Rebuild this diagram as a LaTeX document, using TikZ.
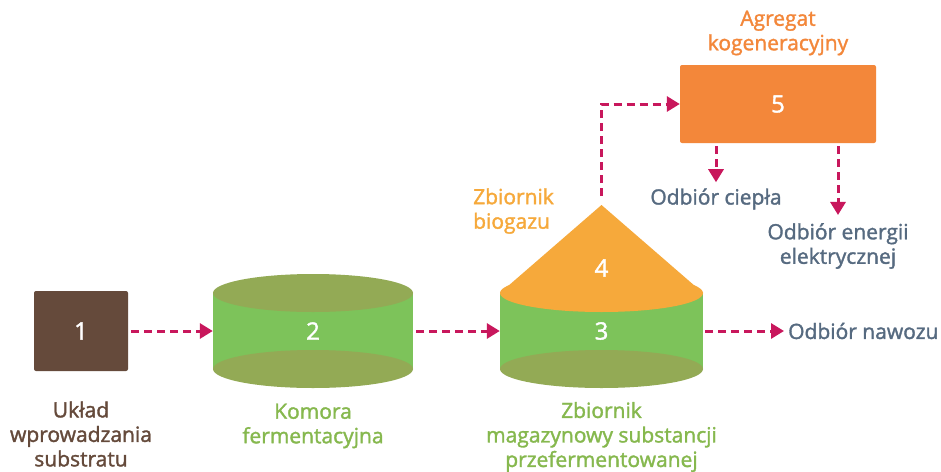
\documentclass[tikz,border=0pt]{standalone}
\usepackage{fontspec}
\setmainfont{Open Sans}[FakeBold=1.6]
\usetikzlibrary{arrows.meta}
\definecolor{brownc}{HTML}{654A3B}
\definecolor{greenbody}{HTML}{7DC35A}
\definecolor{greenell}{HTML}{93AA55}
\definecolor{greentxt}{HTML}{86B84E}
\definecolor{orangecone}{HTML}{F6A93B}
\definecolor{orangebox}{HTML}{F3873A}
\definecolor{arrowc}{HTML}{C8175C}
\definecolor{greyblue}{HTML}{566A80}
\tikzset{
  flow/.style={draw=arrowc, line width=3pt, dash pattern=on 8pt off 5pt,
    -{Triangle[length=13pt,width=15pt]}},
  num/.style={text=white, font=\fontsize{24}{28}\selectfont},
  lbl/.style={font=\fontsize{21}{24.5}\selectfont, align=center, inner sep=0pt},
  box/.style={rounded corners=2pt, inner sep=0pt}
}
\begin{document}
\begin{tikzpicture}[x=1pt,y=-1pt]
\useasboundingbox[fill=white] (0,0) rectangle (941,471);
% cylinder 2
\fill[greenbody] (213,293) rectangle (413,369);
\fill[greenell] (313,369) ellipse[x radius=100, y radius=19];
\fill[greenell] (313,293) ellipse[x radius=100, y radius=19];
% cylinder 3 with cone
\fill[greenbody] (500,293) rectangle (703,369);
\fill[greenell] (601.5,369) ellipse[x radius=101.5, y radius=19];
\fill[orangecone] (601.5,293) ellipse[x radius=101.5, y radius=19];
\fill[orangecone] (500,293) -- (601.5,205) -- (703,293) -- cycle;
\coordinate (apex) at (601.5,205);

% nodes
\node[box, fill=brownc, minimum width=94pt, minimum height=80pt, num] (b1) at (81,331) {1};
\node[num, minimum width=200pt, minimum height=40pt, inner sep=0pt] (c2) at (313,331) {2};
\node[num, minimum width=203pt, minimum height=40pt, inner sep=0pt] (c3) at (601.5,331) {3};
\node[num] (c4) at (601.5,268) {4};
\node[box, fill=orangebox, minimum width=196pt, minimum height=78pt, num] (b5) at (778,104) {5};

% labels
\node[lbl, text=brownc] (l1) at (81,434) {Układ\\wprowadzania\\substratu};
\node[lbl, text=greentxt] (l2) at (313,426) {Komora\\fermentacyjna};
\node[lbl, text=greentxt] (l3) at (601.5,437) {Zbiornik\\magazynowy substancji\\przefermentowanej};
\node[lbl, text=orangecone, align=left, anchor=west] (l4) at (473,211) {Zbiornik\\biogazu};
\node[lbl, text=orangebox] (l5) at (778,33) {Agregat\\kogeneracyjny};
\node[lbl, text=greyblue] (heat) at (716,199) {Odbiór ciepła};
\node[lbl, text=greyblue] (elec) at (838,246) {Odbiór energii\\elektrycznej};
\node[lbl, text=greyblue, anchor=west] (fert) at (788,331) {Odbiór nawozu};

% connectors
\draw[flow, shorten <=3pt] (b1.east) -- (c2.west);
\draw[flow, shorten <=3pt] (c2.east) -- (c3.west);
\draw[flow, shorten <=2pt, shorten >=4pt] (c3.east) -- (fert.west);
\draw[flow, shorten <=9pt] (apex) |- (b5.west);
\draw[flow, shorten <=3pt, shorten >=6pt] (b5.south -| heat.north) -- (heat.north);
\draw[flow, shorten <=3pt, shorten >=8pt] (b5.south -| elec.north) -- (elec.north);
\end{tikzpicture}
\end{document}
